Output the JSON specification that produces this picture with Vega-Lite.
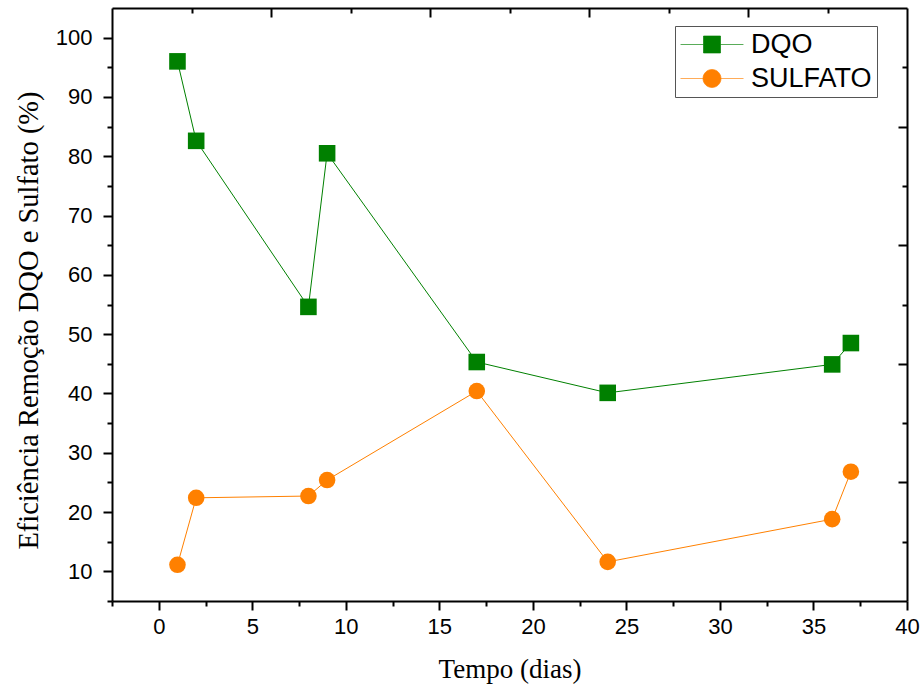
{
  "$schema": "https://vega.github.io/schema/vega-lite/v6.json",
  "width": 795,
  "height": 593,
  "autosize": "none",
  "padding": {"left": 112, "top": 8, "right": 16, "bottom": 87},
  "background": "white",
  "config": {"view": {"stroke": null}},
  "datasets": {
    "series": [
      {"dia": 1, "valor": 96.0, "serie": "DQO"},
      {"dia": 2, "valor": 82.6, "serie": "DQO"},
      {"dia": 8, "valor": 54.6, "serie": "DQO"},
      {"dia": 9, "valor": 80.5, "serie": "DQO"},
      {"dia": 17, "valor": 45.3, "serie": "DQO"},
      {"dia": 24, "valor": 40.1, "serie": "DQO"},
      {"dia": 36, "valor": 44.9, "serie": "DQO"},
      {"dia": 37, "valor": 48.5, "serie": "DQO"},
      {"dia": 1, "valor": 11.1, "serie": "SULFATO"},
      {"dia": 2, "valor": 22.4, "serie": "SULFATO"},
      {"dia": 8, "valor": 22.7, "serie": "SULFATO"},
      {"dia": 9, "valor": 25.4, "serie": "SULFATO"},
      {"dia": 17, "valor": 40.4, "serie": "SULFATO"},
      {"dia": 24, "valor": 11.6, "serie": "SULFATO"},
      {"dia": 36, "valor": 18.8, "serie": "SULFATO"},
      {"dia": 37, "valor": 26.8, "serie": "SULFATO"}
    ],
    "frame": [{"tx": 0, "ty": 0}, {"tx": 10, "ty": 10}]
  },
  "layer": [
    {
      "data": {"name": "series"},
      "encoding": {
        "x": {
          "field": "dia", "type": "quantitative",
          "scale": {"domain": [-2.5, 40], "nice": false, "zero": false},
          "axis": {
            "orient": "bottom",
            "title": "Tempo (dias)",
            "values": [-2.5, 0, 2.5, 5, 7.5, 10, 12.5, 15, 17.5, 20, 22.5, 25, 27.5, 30, 32.5, 35, 37.5, 40],
            "labelExpr": "datum.value % 5 === 0 ? datum.label : ''",
            "grid": false,
            "domainColor": "black", "domainWidth": 2,
            "tickColor": "black", "tickWidth": 2,
            "tickSize": {"condition": {"test": "datum.value % 5 === 0", "value": 9}, "value": 5},
            "labelFont": "Liberation Sans", "labelFontSize": 22, "labelColor": "black",
            "labelPadding": 6, "labelFlush": false, "labelOverlap": false,
            "titleFont": "Liberation Serif", "titleFontSize": 27, "titleFontWeight": "normal",
            "titleColor": "black", "titlePadding": 19
          }
        },
        "y": {
          "field": "valor", "type": "quantitative",
          "scale": {"domain": [5, 105], "nice": false, "zero": false},
          "axis": {
            "orient": "left",
            "title": "Eficiência Remoção DQO e Sulfato (%)",
            "values": [5, 10, 15, 20, 25, 30, 35, 40, 45, 50, 55, 60, 65, 70, 75, 80, 85, 90, 95, 100],
            "labelExpr": "datum.value % 10 === 0 ? datum.label : ''",
            "grid": false,
            "domainColor": "black", "domainWidth": 2,
            "tickColor": "black", "tickWidth": 2,
            "tickSize": {"condition": {"test": "datum.value % 10 === 0", "value": 9}, "value": 5},
            "labelFont": "Liberation Sans", "labelFontSize": 22, "labelColor": "black",
            "labelPadding": 11, "labelFlush": false, "labelOverlap": false,
            "titleFont": "Liberation Serif", "titleFontSize": 28.5, "titleFontWeight": "normal",
            "titleColor": "black", "titlePadding": 12, "titleY": 312
          }
        },
        "color": {
          "field": "serie", "type": "nominal",
          "scale": {"domain": ["DQO", "SULFATO"], "range": ["#008000", "#FF8000"]},
          "legend": {
            "title": null,
            "orient": "none",
            "legendX": 563,
            "legendY": 18,
            "padding": 5,
            "strokeColor": "#555555",
            "fillColor": "white",
            "labelFont": "Liberation Sans",
            "labelFontSize": 27,
            "labelColor": "black",
            "labelOffset": 25.5,
            "symbolOffset": 18.5,
            "symbolSize": 289,
            "rowPadding": 6,
            "encode": {
              "symbols": {
                "update": {
                  "shape": {"signal": "datum.value === 'DQO' ? 'M-3.7,0H-1M1,0H3.7M-1,-1H1V1H-1Z' : 'M-3.5,0H-1M1,0H3.5M1,0A1,1,0,1,1,-1,0A1,1,0,1,1,1,0Z'"},
                  "size": {"signal": "datum.value === 'DQO' ? 289 : 324"},
                  "strokeWidth": {"value": 1},
                  "strokeOpacity": {"value": 0.65},
                  "opacity": {"value": 1}
                }
              }
            }
          }
        }
      },
      "layer": [
        {"mark": {"type": "line", "strokeWidth": 1}},
        {
          "transform": [{"filter": "datum.serie === 'DQO'"}],
          "mark": {"type": "point", "shape": "square", "filled": true, "opacity": 1, "size": 275}
        },
        {
          "transform": [{"filter": "datum.serie === 'SULFATO'"}],
          "mark": {"type": "point", "shape": "circle", "filled": true, "opacity": 1, "size": 275}
        }
      ]
    },
    {
      "data": {"name": "frame"},
      "mark": {"type": "point", "opacity": 0},
      "encoding": {
        "x": {
          "field": "tx", "type": "quantitative",
          "scale": {"domain": [0, 10], "nice": false, "zero": false},
          "axis": {
            "orient": "top", "title": null, "labels": false, "grid": false,
            "values": [1, 2, 3, 4, 5, 6, 7, 8, 9],
            "domainColor": "black", "domainWidth": 2,
            "tickColor": "black", "tickWidth": 2,
            "tickSize": {"condition": {"test": "datum.value % 2 === 0", "value": -9}, "value": -5}
          }
        },
        "y": {
          "field": "ty", "type": "quantitative",
          "scale": {"domain": [0, 10], "nice": false, "zero": false},
          "axis": {
            "orient": "right", "title": null, "labels": false, "grid": false,
            "values": [1, 2, 3, 4, 5, 6, 7, 8, 9],
            "domainColor": "black", "domainWidth": 2,
            "tickColor": "black", "tickWidth": 2,
            "tickSize": {"condition": {"test": "datum.value % 2 === 0", "value": -9}, "value": -5}
          }
        }
      }
    }
  ],
  "resolve": {"scale": {"x": "independent", "y": "independent"}, "axis": {"x": "independent", "y": "independent"}}
}
